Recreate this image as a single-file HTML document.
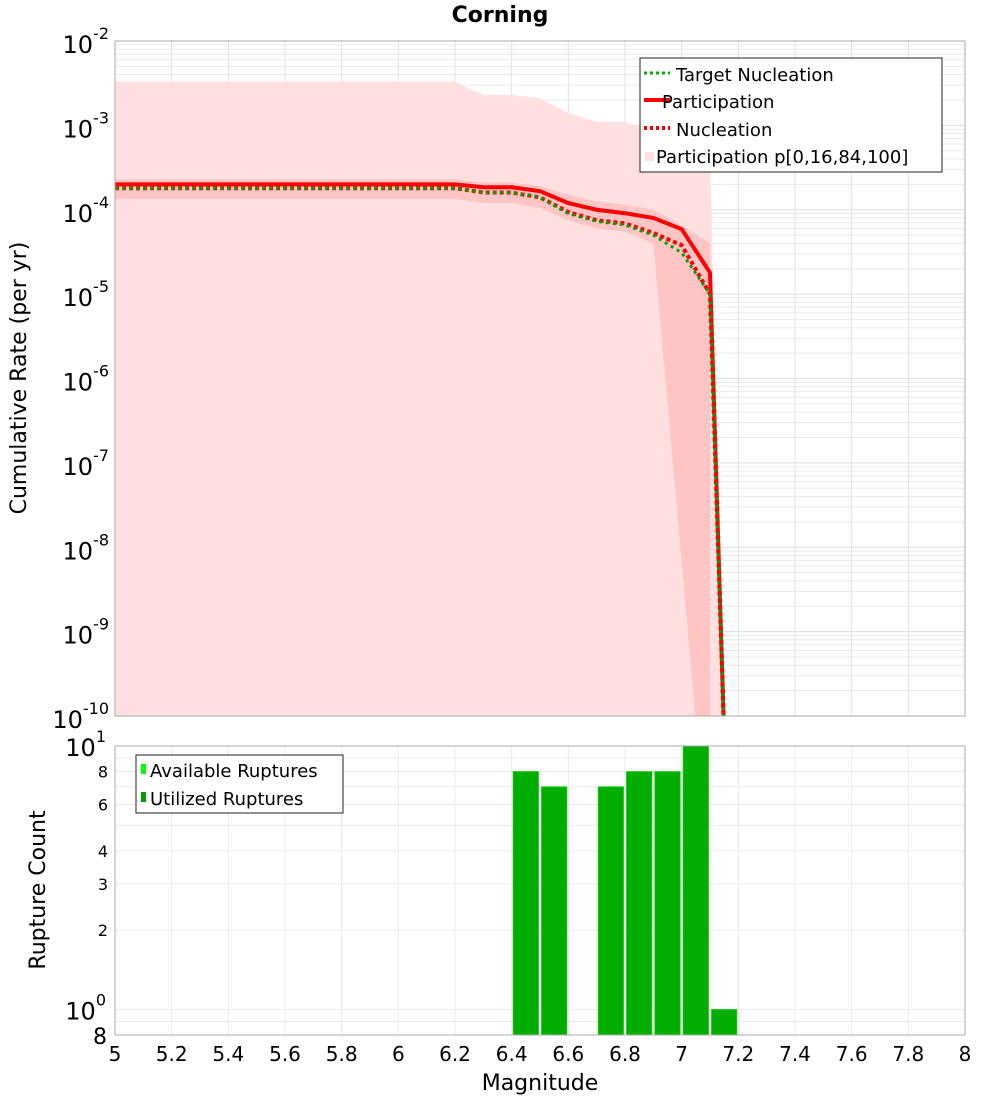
<!DOCTYPE html>
<html><head><meta charset="utf-8"><style>
body{margin:0;background:#fff;}
svg{display:block;font-family:"DejaVu Sans","Liberation Sans",sans-serif;}
</style></head><body>
<svg id="chart" width="1000" height="1100" xmlns="http://www.w3.org/2000/svg">
<text x="500" y="22" text-anchor="middle" font-size="22" font-weight="bold">Corning</text>
<g id="top"></g><g id="bot"></g>
</svg>
<script>
// ---- top panel data ----
const mags = [5.0,5.1,5.2,5.3,5.4,5.5,5.6,5.7,5.8,5.9,6.0,6.1,6.2,6.3,6.4,6.5,6.6,6.7,6.8,6.9,7.0,7.1];
const participation = [2e-4,2e-4,2e-4,2e-4,2e-4,2e-4,2e-4,2e-4,2e-4,2e-4,2e-4,2e-4,2e-4,1.85e-4,1.85e-4,1.66e-4,1.2e-4,1e-4,9.1e-5,8e-5,5.9e-5,1.8e-5];
const nucleation = [1.8e-4,1.8e-4,1.8e-4,1.8e-4,1.8e-4,1.8e-4,1.8e-4,1.8e-4,1.8e-4,1.8e-4,1.8e-4,1.8e-4,1.8e-4,1.6e-4,1.6e-4,1.4e-4,9.4e-5,7.5e-5,6.9e-5,5.3e-5,3.8e-5,1e-5];
const targetNucleation = [1.8e-4,1.8e-4,1.8e-4,1.8e-4,1.8e-4,1.8e-4,1.8e-4,1.8e-4,1.8e-4,1.8e-4,1.8e-4,1.8e-4,1.8e-4,1.6e-4,1.6e-4,1.4e-4,9e-5,7.3e-5,6.6e-5,5e-5,3.1e-5,1e-5];
const bandMax = [3.3e-3,3.3e-3,3.3e-3,3.3e-3,3.3e-3,3.3e-3,3.3e-3,3.3e-3,3.3e-3,3.3e-3,3.3e-3,3.3e-3,3.3e-3,2.3e-3,2.3e-3,2.1e-3,1.4e-3,1.1e-3,1.1e-3,8.5e-4,6.5e-4,6.5e-4];
const bandP84 = [2.3e-4,2.3e-4,2.3e-4,2.3e-4,2.3e-4,2.3e-4,2.3e-4,2.3e-4,2.3e-4,2.3e-4,2.3e-4,2.3e-4,2.3e-4,2.1e-4,2.1e-4,1.9e-4,1.5e-4,1.25e-4,1.15e-4,1e-4,6.5e-5,4e-5];
const bandP16 = [1.35e-4,1.35e-4,1.35e-4,1.35e-4,1.35e-4,1.35e-4,1.35e-4,1.35e-4,1.35e-4,1.35e-4,1.35e-4,1.35e-4,1.35e-4,1.2e-4,1.2e-4,1.05e-4,7.5e-5,6e-5,5.5e-5,4e-5,2.3e-5,1e-11];
const endMag = 7.15, endMagBandMax = 7.14, endMagP16 = 7.05;
const yTickExp = [-10,-9,-8,-7,-6,-5,-4,-3,-2];
// ---- bottom panel data ----
const barMags = [6.45,6.55,6.75,6.85,6.95,7.05,7.15];
const utilized = [8,7,7,8,8,10,1];
const barTicks = [2,3,4,6,8];
const xTicks = [5,5.2,5.4,5.6,5.8,6,6.2,6.4,6.6,6.8,7,7.2,7.4,7.6,7.8,8];

const NS="http://www.w3.org/2000/svg";
const L=115,R=965,T1=41,B1=716,T2=746,B2=1035;
const xs=m=>L+(m-5)/3*(R-L);
const ys1=v=>{const lv=Math.max(Math.log10(v),-10.5);return B1-(lv+10)/8*(B1-T1);};
const ys2=v=>B2-(Math.log10(v)-Math.log10(0.8))/(1-Math.log10(0.8))*(B2-T2);
function el(p,tag,a){const e=document.createElementNS(NS,tag);for(const k in a)e.setAttribute(k,a[k]);p.appendChild(e);return e;}
const top_=document.getElementById('top'),bot=document.getElementById('bot');
const svg=document.getElementById('chart');
// clip
const defs=el(svg,'defs',{});
const cp=el(defs,'clipPath',{id:'c1'});el(cp,'rect',{x:L,y:T1,width:R-L,height:B1-T1});
// top grid
for(let e=-10;e<-2;e++)for(let k=1;k<10;k++){const y=ys1(k*Math.pow(10,e));
 const g=el(top_,'line',{x1:L,x2:R,y1:y,y2:y,stroke:k==1?'#ddd':'#eaeaea','stroke-width':1});
 }
for(const m of xTicks){const g=el(top_,'line',{x1:xs(m),x2:xs(m),y1:T1,y2:B1,stroke:'#e2e2e2'});
 }
const plot=el(top_,'g',{'clip-path':'url(#c1)'});
// bands
let pts=mags.map((m,i)=>xs(m)+','+ys1(bandMax[i]));
pts.push(xs(mags[mags.length-1])+','+ys1(bandMax[bandMax.length-1]));
pts.push(xs(endMagBandMax)+','+(B1+5));pts.push(xs(5)+','+(B1+5));
const b1=el(plot,'polygon',{points:pts.join(' '),fill:'#ffdfe0'});

let up=mags.map((m,i)=>xs(m)+','+ys1(bandP84[i]));
let lo=mags.slice(0,20).map((m,i)=>xs(m)+','+ys1(bandP16[i]));
lo.push(xs(endMagP16)+','+(B1+5));
const b2=el(plot,'polygon',{points:up.concat([xs(7.1)+','+(B1+5)],lo.reverse()).join(' '),fill:'#ffc4c4'});

function line(arr,color,dash,w,name){let p=mags.map((m,i)=>xs(m)+','+ys1(arr[i]));p.push(xs(endMag)+','+(B1+20));
 const e=el(plot,'polyline',{points:p.join(' '),fill:'none',stroke:color,'stroke-width':w,'stroke-dasharray':dash});
 }
line(participation,'#ff0000','none',4,'participation-line');
line(nucleation,'#ff0000','4 3',4,'nucleation-line');
line(targetNucleation,'#00a000','3 4',3,'target-nucleation-line');
el(top_,'rect',{x:L,y:T1,width:R-L,height:B1-T1,fill:'none',stroke:'#aaa'});
// y ticks top
yTickExp.forEach(e=>{const y=ys1(Math.pow(10,e));
 const t=el(top_,'text',{x:109,y:y+12,'text-anchor':'end','font-size':24});
 
 t.textContent='10';const s=el(t,'tspan',{dy:-14,'font-size':16});s.textContent=String(e);});
const yt=el(top_,'text',{transform:'translate(26,378) rotate(-90)','text-anchor':'middle','font-size':22});
yt.textContent='Cumulative Rate (per yr)';
// top legend
const lg=el(top_,'g',{});
el(lg,'rect',{x:640,y:58,width:302,height:114,fill:'#fff',stroke:'#222'});
const items=[['Target Nucleation','#00b000','3 3',3,77],['Participation','#ff0000','none',4,104],['Nucleation','#ff0000','3 3',4,132]];
items.forEach(([lab,c,d,w,y])=>{el(lg,'line',{x1:644,x2:670,y1:y-4,y2:y-4,stroke:c,'stroke-width':w,'stroke-dasharray':d});
 const t=el(lg,'text',{x:lab=='Participation'?662:676,y:y+4,'font-size':18});t.textContent=lab;
 });
el(lg,'rect',{x:645,y:152,width:9,height:9,fill:'#ffdfe0'});
const t4=el(lg,'text',{x:656,y:163,'font-size':18});t4.textContent='Participation p[0,16,84,100]';


// bottom grid
const gv=[0.8,0.9,1,2,3,4,5,6,7,8,9,10];
gv.forEach(v=>{const y=ys2(v);const g=el(bot,'line',{x1:L,x2:R,y1:y,y2:y,stroke:'#ebebeb'});
 });
xTicks.forEach(m=>{const g=el(bot,'line',{x1:xs(m),x2:xs(m),y1:T2,y2:B2,stroke:'#ebebeb'});
 });
barMags.forEach((m,i)=>{const x0=xs(m-0.05)+1.5,x1=xs(m+0.05)-1.5,y=ys2(utilized[i]);
 const b=el(bot,'rect',{x:x0,y:y,width:x1-x0,height:B2-y,fill:'#00ad00',stroke:'#10d010','stroke-width':0.8});
 });
el(bot,'rect',{x:L,y:T2,width:R-L,height:B2-T2,fill:'none',stroke:'#aaa'});
barTicks.forEach(v=>{const t=el(bot,'text',{x:108,y:ys2(v)+6,'text-anchor':'end','font-size':16});t.textContent=String(v);
 });
[[1,'0'],[10,'1']].forEach(([v,e])=>{const t=el(bot,'text',{x:106,y:ys2(v)+10,'text-anchor':'end','font-size':24});t.textContent='10';
 const s=el(t,'tspan',{dy:-14,'font-size':16});s.textContent=e;
 });
const t8=el(bot,'text',{x:107,y:B2+9,'text-anchor':'end','font-size':22});t8.textContent='8';

xTicks.forEach(m=>{const t=el(bot,'text',{x:xs(m),y:1061,'text-anchor':'middle','font-size':20});t.textContent=String(m);
 });
const xt=el(bot,'text',{x:540,y:1090,'text-anchor':'middle','font-size':22});xt.textContent='Magnitude';

const yt2=el(bot,'text',{transform:'translate(45,890) rotate(-90)','text-anchor':'middle','font-size':22});yt2.textContent='Rupture Count';

const lg2=el(bot,'g',{});
el(lg2,'rect',{x:136,y:755,width:207,height:58,fill:'#fff',stroke:'#222'});
el(lg2,'rect',{x:141,y:764,width:5,height:10,fill:'#00ff00'});
el(lg2,'rect',{x:141,y:792,width:5,height:10,fill:'#00a000'});
const la=el(lg2,'text',{x:150,y:777,'font-size':18});la.textContent='Available Ruptures';

const lu=el(lg2,'text',{x:150,y:805,'font-size':18});lu.textContent='Utilized Ruptures';

</script>
</body></html>
